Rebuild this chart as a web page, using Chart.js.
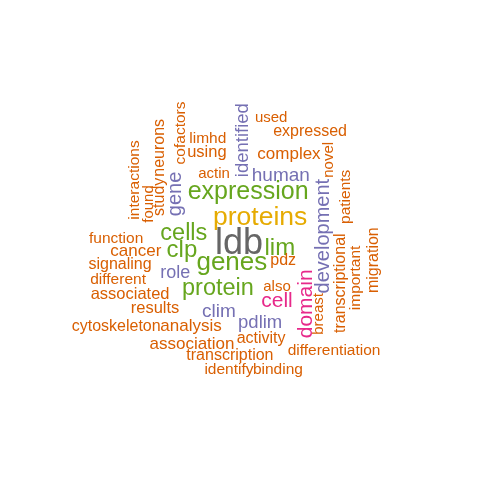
<!DOCTYPE html>
<html>
<head>
<meta charset="utf-8">
<script src="https://cdn.jsdelivr.net/npm/chart.js@4"></script>
<style>
  html, body { margin: 0; padding: 0; background: #ffffff; }
  #cloud { display: block; }
</style>
</head>
<body>
<canvas id="cloud" width="480" height="480"></canvas>
<script>
// Mots du nuage et leur fréquence
const words = ['ldb', 'proteins', 'expression', 'genes', 'cells', 'lim', 'clp', 'protein',
  'cell', 'domain', 'development', 'gene', 'identified', 'human', 'role', 'clim', 'pdlim',
  'pdz', 'also', 'actin', 'used', 'expressed', 'limhd', 'using', 'complex',
  'function', 'cancer', 'signaling', 'different', 'associated', 'results', 'cytoskeleton',
  'analysis', 'association', 'transcription', 'identify', 'binding', 'differentiation',
  'activity', 'interactions', 'found', 'study', 'neurons', 'cofactors', 'novel',
  'patients', 'transcriptional', 'important', 'migration', 'breast'];

const freqs = [52, 33, 30, 32, 27, 28, 28, 27,
  22, 22, 20, 20, 17, 18, 16, 18, 17,
  12, 10, 10, 10, 12, 11, 13, 14,
  11, 14, 12, 11, 13, 13, 12,
  14, 14, 12, 11, 11, 11,
  12, 11, 10, 12, 12, 11, 10,
  11, 12, 11, 12, 10];

// Position de chaque mot dans le nuage (0 à 1)
const xs = [0.498, 0.542, 0.517, 0.483, 0.383, 0.583, 0.379, 0.454,
  0.577, 0.633, 0.669, 0.362, 0.502, 0.585, 0.365, 0.456, 0.542,
  0.590, 0.577, 0.446, 0.565, 0.646, 0.433, 0.431, 0.602,
  0.242, 0.283, 0.250, 0.246, 0.271, 0.323, 0.242,
  0.398, 0.400, 0.479, 0.477, 0.579, 0.696,
  0.544, 0.277, 0.306, 0.329, 0.329, 0.373, 0.683,
  0.717, 0.706, 0.737, 0.775, 0.662];

const ys = [0.498, 0.552, 0.604, 0.458, 0.519, 0.488, 0.483, 0.404,
  0.377, 0.367, 0.508, 0.596, 0.708, 0.638, 0.435, 0.354, 0.331,
  0.460, 0.406, 0.640, 0.758, 0.729, 0.715, 0.685, 0.683,
  0.506, 0.481, 0.452, 0.421, 0.390, 0.360, 0.323,
  0.323, 0.287, 0.262, 0.233, 0.233, 0.273,
  0.298, 0.625, 0.575, 0.590, 0.692, 0.723, 0.667,
  0.590, 0.410, 0.421, 0.458, 0.346];

// Mots écrits à la verticale
const vertical = ['domain', 'development', 'gene', 'identified', 'interactions', 'found',
  'study', 'neurons', 'cofactors', 'novel', 'patients', 'transcriptional', 'important',
  'migration', 'breast'];

// Palette Dark2
const palette = ['#D95F02', '#7570B3', '#E7298A', '#66A61E', '#E6AB02', '#666666'];

function colorFor(f) {
  if (f < 15) return palette[0];
  if (f < 21) return palette[1];
  if (f < 26) return palette[2];
  if (f < 33) return palette[3];
  if (f < 40) return palette[4];
  return palette[5];
}

function sizeFor(f) {
  return 15 + (f - 10) * 0.5;
}

// Plugin qui écrit les mots à la place des points
const wordPlugin = {
  id: 'words',
  afterDatasetsDraw(chart) {
    const ctx = chart.ctx;
    const meta = chart.getDatasetMeta(0);
    meta.data.forEach((pt, i) => {
      const size = sizeFor(freqs[i]);
      ctx.save();
      ctx.translate(pt.x, pt.y);
      if (vertical.includes(words[i])) ctx.rotate(-Math.PI / 2);
      ctx.font = size + 'px "Liberation Sans", Arial, sans-serif';
      ctx.fillStyle = colorFor(freqs[i]);
      ctx.textAlign = 'center';
      ctx.textBaseline = 'middle';
      // petit décalage pour centrer la hauteur des minuscules
      ctx.fillText(words[i], 0, size * 0.1);
      ctx.restore();
    });
  }
};

document.addEventListener('DOMContentLoaded', function() {
  const ctx = document.getElementById('cloud').getContext('2d');
  new Chart(ctx, {
    type: 'scatter',
    data: {
      datasets: [{
        data: words.map((w, i) => ({ x: xs[i], y: ys[i] })),
        pointRadius: 0,
        pointHoverRadius: 0
      }]
    },
    options: {
      responsive: false,
      animation: false,
      layout: { padding: 0 },
      plugins: {
        legend: { display: false },
        tooltip: { enabled: false }
      },
      scales: {
        x: { type: 'linear', min: 0, max: 1, display: false },
        y: { type: 'linear', min: 0, max: 1, display: false }
      }
    },
    plugins: [wordPlugin]
  });
});
</script>
</body>
</html>
